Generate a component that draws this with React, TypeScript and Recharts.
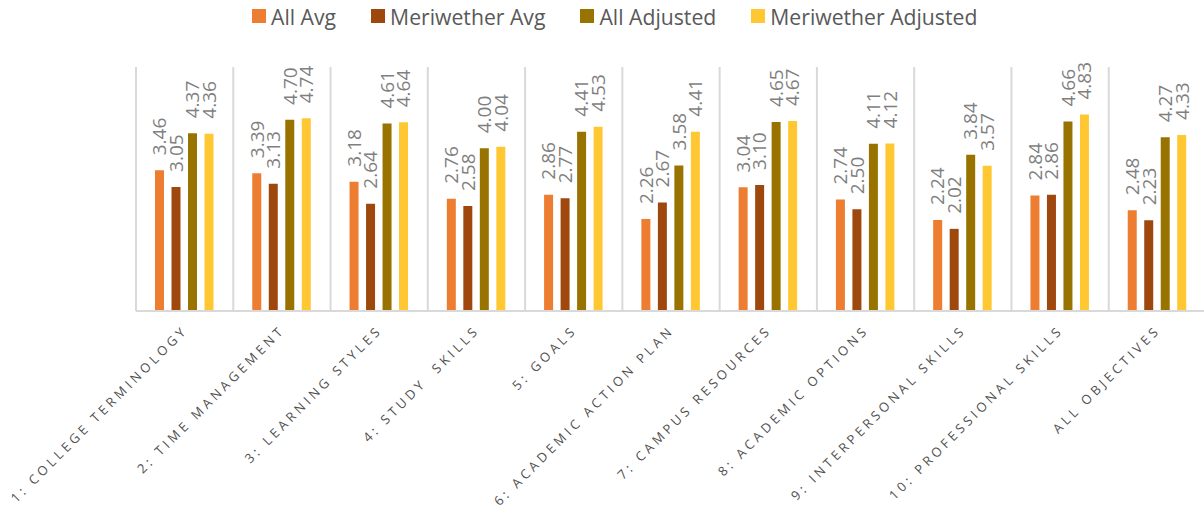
import React from 'react';
import { BarChart, Bar, XAxis, YAxis, CartesianGrid, LabelList } from 'recharts';

const categories = [
  '1: COLLEGE TERMINOLOGY',
  '2: TIME MANAGEMENT',
  '3: LEARNING STYLES',
  '4: STUDY  SKILLS',
  '5: GOALS',
  '6: ACADEMIC ACTION PLAN',
  '7: CAMPUS RESOURCES',
  '8: ACADEMIC OPTIONS',
  '9: INTERPERSONAL SKILLS',
  '10: PROFESSIONAL SKILLS',
  'ALL OBJECTIVES',
];

const allAvg = [3.46, 3.39, 3.18, 2.76, 2.86, 2.26, 3.04, 2.74, 2.24, 2.84, 2.48];
const meriwetherAvg = [3.05, 3.13, 2.64, 2.58, 2.77, 2.67, 3.1, 2.5, 2.02, 2.86, 2.23];
const allAdjusted = [4.37, 4.7, 4.61, 4.0, 4.41, 3.58, 4.65, 4.11, 3.84, 4.66, 4.27];
const meriwetherAdjusted = [4.36, 4.74, 4.64, 4.04, 4.53, 4.41, 4.67, 4.12, 3.57, 4.83, 4.33];

const series = [
  { key: 'allAvg', name: 'All Avg', color: '#ED7D31' },
  { key: 'meriwetherAvg', name: 'Meriwether Avg', color: '#9E480E' },
  { key: 'allAdjusted', name: 'All Adjusted', color: '#997300' },
  { key: 'meriwetherAdjusted', name: 'Meriwether Adjusted', color: '#FFC832' },
];

const data = categories.map((name, i) => ({
  name,
  allAvg: allAvg[i],
  meriwetherAvg: meriwetherAvg[i],
  allAdjusted: allAdjusted[i],
  meriwetherAdjusted: meriwetherAdjusted[i],
}));

const FONT = '"Open Sans", "Noto Sans", sans-serif';

// vertical lines sit between categories (band edges), not at band centres
const bandEdges = (props: any) => {
  const { offset } = props;
  const step = offset.width / categories.length;
  return categories.map((_, i) => offset.left + i * step);
};

const CategoryTick = (props: any) => {
  const { x, y, payload } = props;
  const tx = x + 4;
  const ty = y + 20;
  return (
    <text
      x={tx}
      y={ty}
      transform={`rotate(-45 ${tx} ${ty})`}
      textAnchor="end"
      fill="#505050"
      fontSize={13}
      fontFamily={FONT}
      letterSpacing={3.6}
      style={{ whiteSpace: 'pre' }}
    >
      {payload.value}
    </text>
  );
};

const ValueLabel = (props: any) => {
  const { x, y, width, value } = props;
  const tx = x + width / 2 + 6.8;
  const ty = y - 15;
  return (
    <text
      x={tx}
      y={ty}
      transform={`rotate(-90 ${tx} ${ty})`}
      textAnchor="start"
      fill="#7F7F7F"
      fontSize={19}
      fontFamily={FONT}
    >
      {Number(value).toFixed(2)}
    </text>
  );
};

export default function App() {
  return (
    <div style={{ position: 'absolute', left: 0, top: 0, width: 1204, height: 514, overflow: 'hidden', background: '#fff' }}>
      {/* legend */}
      <div
        style={{
          position: 'absolute',
          left: 252,
          top: 0,
          height: 32,
          display: 'flex',
          alignItems: 'center',
          gap: 35,
          fontFamily: FONT,
          fontSize: 21.2,
          color: '#595959',
          whiteSpace: 'nowrap',
        }}
      >
        {series.map((s) => (
          <div key={s.key} style={{ display: 'flex', alignItems: 'center', gap: 5 }}>
            <span style={{ display: 'inline-block', width: 14, height: 14, background: s.color }} />
            <span>{s.name}</span>
          </div>
        ))}
      </div>

      <BarChart
        width={1206}
        height={514}
        data={data}
        margin={{ top: 67, right: 0, bottom: 13, left: 136 }}
        barSize={9}
        barGap={7.5}
      >
        <CartesianGrid horizontal={false} stroke="#D9D9D9" strokeWidth={2} verticalCoordinatesGenerator={bandEdges} />
        <XAxis
          dataKey="name"
          type="category"
          height={190}
          interval={0}
          tickSize={0}
          tickMargin={0}
          tickLine={false}
          axisLine={{ stroke: '#D9D9D9', strokeWidth: 2 }}
          tick={<CategoryTick />}
        />
        <YAxis domain={[0, 6]} hide />
        {series.map((s) => (
          <Bar key={s.key} dataKey={s.key} name={s.name} fill={s.color} isAnimationActive={false}>
            <LabelList dataKey={s.key} content={<ValueLabel />} />
          </Bar>
        ))}
      </BarChart>
    </div>
  );
}
